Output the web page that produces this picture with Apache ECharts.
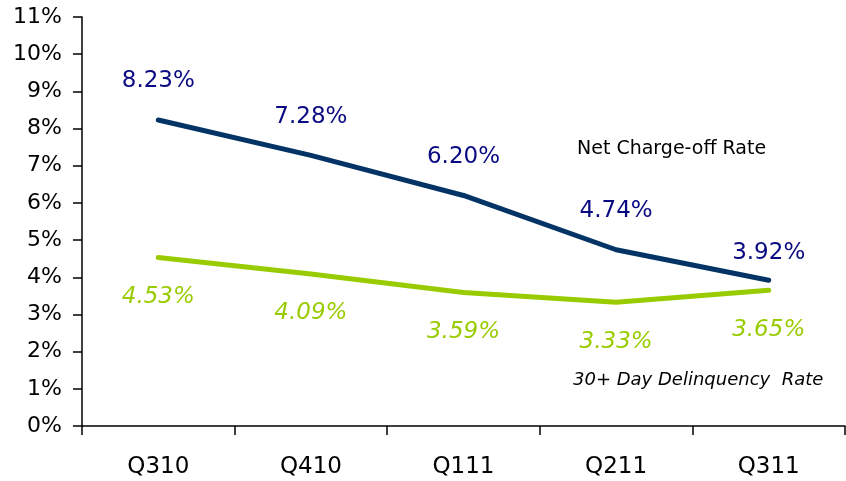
<!DOCTYPE html>
<html>
<head>
<meta charset="utf-8">
<script src="https://cdn.jsdelivr.net/npm/echarts@6/dist/echarts.min.js"></script>
<style>
  html, body { margin: 0; padding: 0; background: #fff; }
  #chart { width: 846px; height: 481px; }
</style>
</head>
<body>
<div id="chart"></div>
<script>
// chart data
const quarters = ['Q310', 'Q410', 'Q111', 'Q211', 'Q311']
const chargeOff = [8.23, 7.28, 6.20, 4.74, 3.92]
const delinquency = [4.53, 4.09, 3.59, 3.33, 3.65]
const yTicks = [0, 1, 2, 3, 4, 5, 6, 7, 8, 9, 10, 11]

const font = '"DejaVu Sans", sans-serif'
const pct = p => p.value.toFixed(2) + '%'

// last charge-off label sits closer to the line
const chargeOffData = chargeOff.map((v, i) =>
  i === chargeOff.length - 1 ? {value: v, label: {distance: 15}} : v)

const chart = echarts.init(document.getElementById('chart'))
chart.setOption({
  animation: false,
  grid: {left: 82, right: 1, top: 17, bottom: 55},
  xAxis: {
    type: 'category',
    data: quarters,
    boundaryGap: true,
    axisLine: {lineStyle: {color: '#000', width: 1.5}},
    axisTick: {show: true, length: 9, lineStyle: {color: '#000', width: 1.5}},
    axisLabel: {color: '#000', fontSize: 23, fontFamily: font, margin: 30}
  },
  yAxis: {
    type: 'value',
    min: 0,
    max: yTicks[yTicks.length - 1],
    interval: 1,
    splitLine: {show: false},
    axisLine: {show: true, lineStyle: {color: '#000', width: 1.5}},
    axisTick: {show: true, length: 9, lineStyle: {color: '#000', width: 1.5}},
    axisLabel: {color: '#000', fontSize: 22, fontFamily: font, margin: 20,
      formatter: v => v + '%'}
  },
  series: [
    {
      name: 'Net Charge-off Rate',
      type: 'line',
      data: chargeOffData,
      symbol: 'circle',
      symbolSize: 2,
      showSymbol: true,
      itemStyle: {color: 'rgba(0,0,0,0)', borderWidth: 0},
      lineStyle: {color: '#043466', width: 5, cap: 'round'},
      label: {
        show: true, position: 'top', distance: 26,
        color: '#0a0a82', fontSize: 23, fontFamily: font, formatter: pct
      }
    },
    {
      name: '30+ Day Delinquency Rate',
      type: 'line',
      data: delinquency,
      symbol: 'circle',
      symbolSize: 2,
      showSymbol: true,
      itemStyle: {color: 'rgba(0,0,0,0)', borderWidth: 0},
      lineStyle: {color: '#99cc00', width: 5, cap: 'round'},
      label: {
        show: true, position: 'bottom', distance: 27,
        color: '#99cc00', fontSize: 23, fontStyle: 'italic', fontFamily: font,
        formatter: pct
      }
    }
  ],
  graphic: [
    {type: 'text', left: 577, top: 140,
      style: {text: 'Net Charge-off Rate', fill: '#000', fontSize: 19, fontFamily: font}},
    {type: 'text', left: 573, top: 371,
      style: {text: '30+ Day Delinquency  Rate', fill: '#000', fontSize: 18, fontStyle: 'italic', fontFamily: font}}
  ]
})
</script>
</body>
</html>
